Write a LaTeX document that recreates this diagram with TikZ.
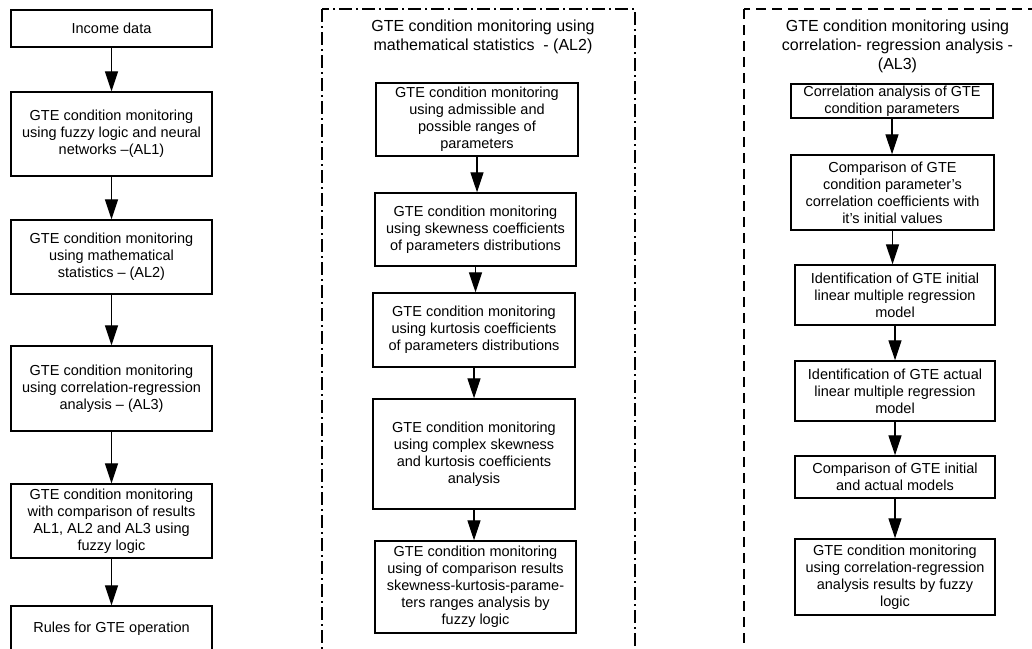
\documentclass[tikz,border=0pt]{standalone}
\usepackage{fontspec}
\setmainfont{Liberation Sans}
\usetikzlibrary{arrows.meta}
\begin{document}
\begin{tikzpicture}[x=1pt,y=-1pt,
  box/.style={draw, line width=1.4pt, align=center, inner sep=0pt, font=\fontsize{14.5}{17}\selectfont},
  ttl/.style={align=center, inner sep=0pt, font=\fontsize{16}{19}\selectfont},
  arr/.style={line width=1.3pt, -{Triangle[width=13pt,length=20pt]}},
  dashdot/.style={line width=1.3pt, dash pattern=on 13pt off 4pt on 2pt off 4pt},
  dashfr/.style={line width=1.3pt, dash pattern=on 10pt off 6pt}]
\useasboundingbox (0,0) rectangle (1032,648);
\clip (0,0) rectangle (1032,648);
\fill[white] (0,0) rectangle (1032,648);
% left column
\node[box, minimum width=201, minimum height=37] (l1) at (111.5,28.5) {Income data};
\node[box, minimum width=201, minimum height=84] (l2) at (111.5,134) {GTE condition monitoring\\using fuzzy logic and neural\\networks –(AL1)};
\node[box, minimum width=201, minimum height=74] (l3) at (111.5,257) {GTE condition monitoring\\using mathematical\\statistics – (AL2)};
\node[box, minimum width=201, minimum height=85] (l4) at (111.5,388.5) {GTE condition monitoring\\using correlation-regression\\analysis – (AL3)};
\node[box, minimum width=201, minimum height=74] (l5) at (111.5,521) {GTE condition monitoring\\with comparison of results\\AL1, AL2 and AL3 using\\fuzzy logic};
\node[box, minimum width=201, minimum height=46] (l6) at (111.5,629) {Rules for GTE operation};
\foreach \a/\b in {l1/l2,l2/l3,l3/l4,l4/l5,l5/l6}
  \draw[arr] (\a.south) -- (\a.south |- \b.north);
% middle frame
\coordinate (mtl) at (322,9);
\coordinate (mbr) at (635,700);
\draw[dashdot] (mtl) rectangle (mbr);
\node[ttl] (mt) at (483,36.5) {GTE condition monitoring using\\mathematical statistics \ - (AL2)};
\node[box, minimum width=202, minimum height=73] (m1) at (477,119.5) {GTE condition monitoring\\using admissible and\\possible ranges of\\parameters};
\node[box, minimum width=201, minimum height=73] (m2) at (475.5,229.5) {GTE condition monitoring\\using skewness coefficients\\of parameters distributions};
\node[box, minimum width=202, minimum height=74] (m3) at (474,330) {GTE condition monitoring\\using kurtosis coefficients\\of parameters distributions};
\node[box, minimum width=202, minimum height=110] (m4) at (474,454) {GTE condition monitoring\\using complex skewness\\and kurtosis coefficients\\analysis};
\node[box, minimum width=201, minimum height=92] (m5) at (475.5,587) {GTE condition monitoring\\using of comparison results\\skewness-kurtosis-parame-\\ters ranges analysis by\\fuzzy logic};
\foreach \a/\b in {m1/m2,m2/m3,m3/m4,m4/m5}
  \draw[arr] (\a.south) -- (\a.south |- \b.north);
% right frame
\coordinate (rtl) at (744,9);
\coordinate (rbr) at (1080,700);
\draw[dashfr] (rtl) rectangle (rbr);
\node[ttl] (rt) at (897.5,46) {GTE condition monitoring using\\correlation- regression analysis -\\(AL3)};
\node[box, minimum width=202, minimum height=34] (r1) at (892,101) {Correlation analysis of GTE\\condition parameters};
\node[box, minimum width=203, minimum height=75] (r2) at (892.5,192.5) {Comparison of GTE\\condition parameter’s\\correlation coefficients with\\it’s initial values};
\node[box, minimum width=200, minimum height=60] (r3) at (895,295) {Identification of GTE initial\\linear multiple regression\\model};
\node[box, minimum width=200, minimum height=60] (r4) at (895,391) {Identification of GTE actual\\linear multiple regression\\model};
\node[box, minimum width=200, minimum height=42] (r5) at (895,477) {Comparison of GTE initial\\and actual models};
\node[box, minimum width=200, minimum height=76] (r6) at (895,577) {GTE condition monitoring\\using correlation-regression\\analysis results by fuzzy\\logic};
\foreach \a/\b in {r1/r2,r2/r3,r3/r4,r4/r5,r5/r6}
  \draw[arr] (\a.south) -- (\a.south |- \b.north);
\end{tikzpicture}
\end{document}
